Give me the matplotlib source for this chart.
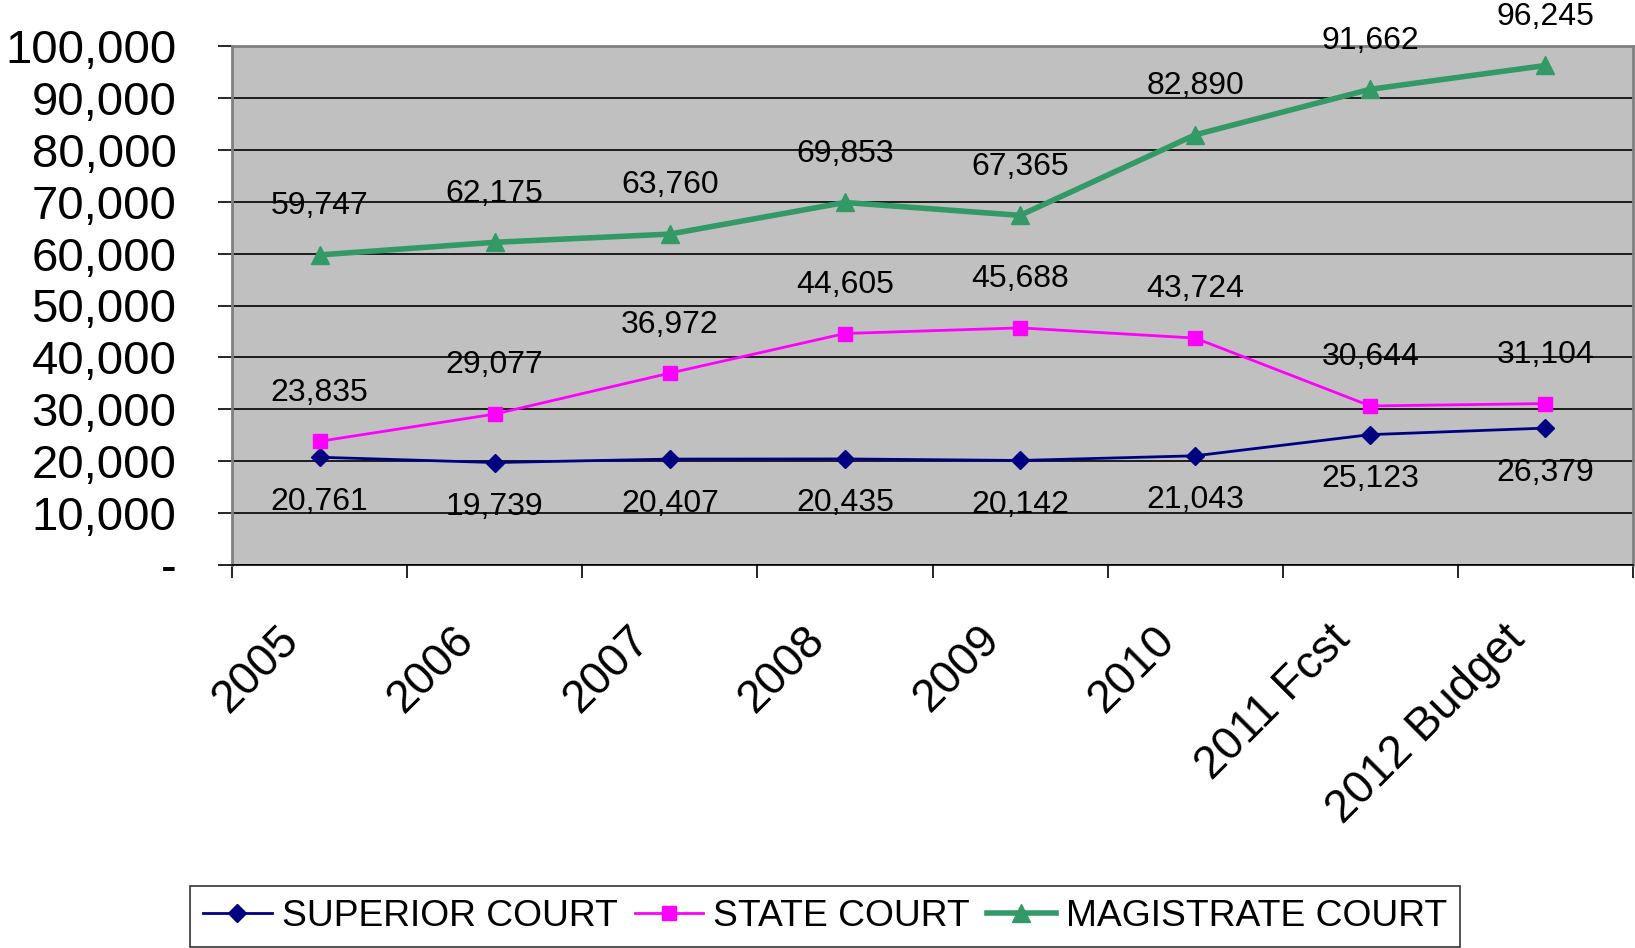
import matplotlib
matplotlib.use("Agg")
import matplotlib.pyplot as plt
import matplotlib.transforms as mtransforms
from matplotlib.ticker import FixedLocator, FuncFormatter

# chart data
years = ["2005", "2006", "2007", "2008", "2009", "2010", "2011 Fcst", "2012 Budget"]
superior = [20761, 19739, 20407, 20435, 20142, 21043, 25123, 26379]
state = [23835, 29077, 36972, 44605, 45688, 43724, 30644, 31104]
magistrate = [59747, 62175, 63760, 69853, 67365, 82890, 91662, 96245]
y_ticks = [0, 10000, 20000, 30000, 40000, 50000, 60000, 70000, 80000, 90000, 100000]

plt.rcParams["font.family"] = ["Liberation Sans", "DejaVu Sans"]

fig = plt.figure(figsize=(16.35, 9.48), dpi=100)
ax = fig.add_axes([232 / 1635, 1 - 565 / 948, (1633 - 232) / 1635, (565 - 46) / 948])
ax.set_facecolor("#C0C0C0")

x = list(range(len(years)))
ax.plot(x, superior, color="#000080", lw=2, marker="D", ms=9, label="SUPERIOR COURT", zorder=3)
ax.plot(x, state, color="#FF00FF", lw=2, marker="s", ms=9.5, label="STATE COURT", zorder=3)
ax.plot(x, magistrate, color="#339966", lw=4, marker="^", ms=13, label="MAGISTRATE COURT", zorder=3)

# data labels
for i in x:
    ax.annotate(f"{magistrate[i]:,}", (i, magistrate[i]), xytext=(0, 35), textcoords="offset points",
                ha="center", va="center", fontsize=23, annotation_clip=False)
    ax.annotate(f"{state[i]:,}", (i, state[i]), xytext=(0, 35), textcoords="offset points",
                ha="center", va="center", fontsize=23)
    ax.annotate(f"{superior[i]:,}", (i, superior[i]), xytext=(0, -32), textcoords="offset points",
                ha="center", va="center", fontsize=23)

ax.set_xlim(-0.5, len(years) - 0.5)
ax.set_ylim(0, 100000)

ax.set_yticks(y_ticks)
ax.yaxis.set_major_formatter(FuncFormatter(lambda v, p: "-" if v == 0 else f"{int(v):,}"))
ax.tick_params(axis="y", labelsize=34, length=10, width=1.2, pad=30, colors="black")
ax.yaxis.grid(True, color="black", lw=1.2)
ax.set_axisbelow(True)

ax.set_xticks(x)
ax.set_xticklabels(years, rotation=45, ha="right", va="center", rotation_mode="anchor")
ax.xaxis.set_minor_locator(FixedLocator([i - 0.5 for i in range(len(years) + 1)]))
ax.tick_params(axis="x", which="major", length=0, labelsize=33, pad=49)
ax.tick_params(axis="x", which="minor", length=9, width=1.2)
shift = mtransforms.ScaledTranslation(-27 / 100, 0, fig.dpi_scale_trans)
for lbl in ax.get_xticklabels():
    lbl.set_transform(lbl.get_transform() + shift)

for side in ["top", "right", "left"]:
    ax.spines[side].set_color("#808080")
    ax.spines[side].set_linewidth(2)
ax.spines["bottom"].set_color("black")
ax.spines["bottom"].set_linewidth(1.2)

leg = fig.legend(loc="lower left", bbox_to_anchor=(190 / 1635, 1 / 948), ncol=3, fontsize=26.8,
                 frameon=True, fancybox=False, edgecolor="black", borderaxespad=0,
                 handlelength=1.85, handletextpad=0.27, columnspacing=0.45, borderpad=0.35)
leg.get_frame().set_linewidth(1.2)

fig.savefig("out.png", dpi=100)
